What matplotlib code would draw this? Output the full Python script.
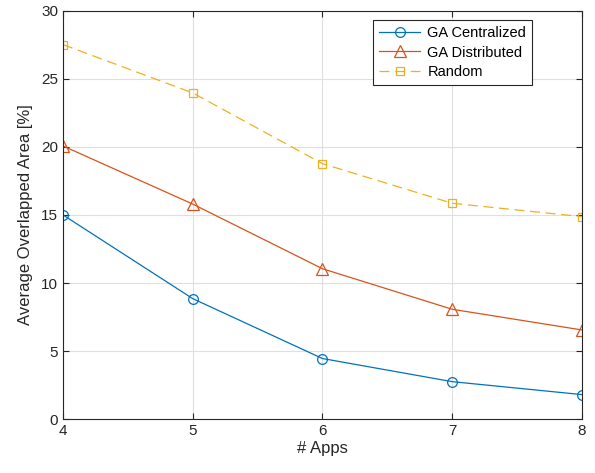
import matplotlib
matplotlib.use("Agg")
import matplotlib.pyplot as plt

plt.rcParams['font.family'] = ['Liberation Sans', 'DejaVu Sans']

apps = [4, 5, 6, 7, 8]
ga_centralized = [15.0, 8.85, 4.45, 2.75, 1.8]
ga_distributed = [20.07, 15.8, 11.05, 8.07, 6.55]
random_vals = [27.52, 23.97, 18.77, 15.86, 14.88]

xticks = [4, 5, 6, 7, 8]
yticks = [0, 5, 10, 15, 20, 25, 30]

fig = plt.figure(figsize=(5.95, 4.73), dpi=100)
ax = fig.add_axes([0.106, 0.114, 0.872, 0.863])

ax.plot(apps, ga_centralized, color='#0072BD', lw=0.9, marker='o', ms=7,
        mfc='none', mew=0.9, label='GA Centralized')
ax.plot(apps, ga_distributed, color='#D95319', lw=0.9, marker='^', ms=8.5,
        mfc='none', mew=0.9, label='GA Distributed')
ax.plot(apps, random_vals, color='#EDB120', lw=0.9, ls=(0, (8, 4.5)), marker='s', ms=6,
        mfc='none', mew=0.9, label='Random')

ax.set_xlim(4, 8)
ax.set_ylim(0, 30)
ax.set_xticks(xticks)
ax.set_yticks(yticks)
ax.grid(True, color='#dfdfdf', lw=0.8)
ax.set_axisbelow(True)
ax.tick_params(direction='in', top=True, right=True, labelsize=11, colors='#262626', length=4)
for s in ax.spines.values():
    s.set_color('#262626')
    s.set_linewidth(0.8)

ax.set_xlabel('# Apps', fontsize=12, color='#262626', labelpad=2)
ax.set_ylabel('Average Overlapped Area [%]', fontsize=12, color='#262626', labelpad=6)

leg = ax.legend(loc='upper right', bbox_to_anchor=(0.904, 0.978), borderaxespad=0,
                fontsize=10.5, frameon=True, fancybox=False, edgecolor='#262626',
                framealpha=1, handlelength=2.8, borderpad=0.4, labelspacing=0.4,
                handletextpad=0.5)
leg.get_frame().set_linewidth(0.8)

fig.savefig('out.png', dpi=100)
